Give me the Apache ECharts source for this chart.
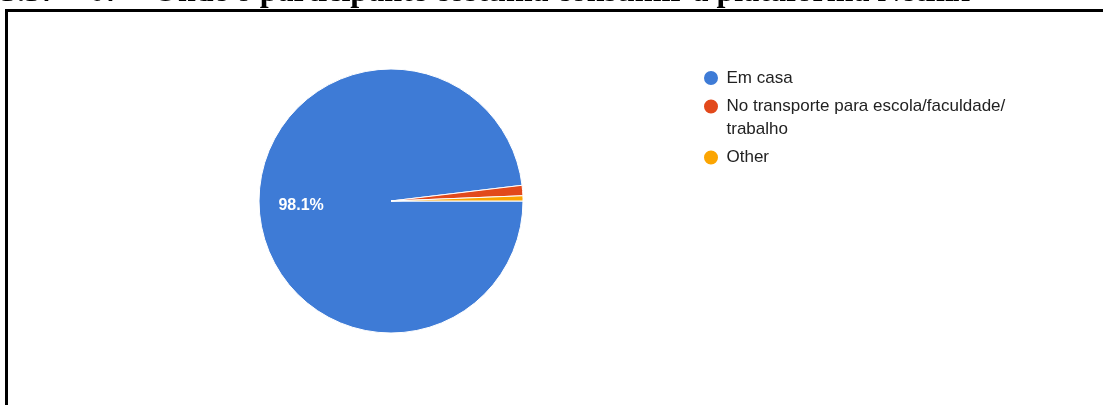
<!DOCTYPE html>
<html>
<head>
<meta charset="utf-8">
<script src="https://cdn.jsdelivr.net/npm/echarts@6/dist/echarts.min.js"></script>
<style>
  html, body { margin: 0; padding: 0; background: #ffffff; }
  #chart { width: 1103px; height: 405px; }
</style>
</head>
<body>
<div id="chart"></div>
<script>
// Onde o participante costuma consumir a plataforma Netflix (respostas)
const titleText = '3.37 \u2013 07 \u2013 Onde o participante costuma consumir a plataforma Netflix';
const categories = ['Em casa', 'No transporte para escola/faculdade/trabalho', 'Other'];
const responses = [155, 2, 1];
const sliceColors = ['#3e7bd6', '#e2491b', '#fba502'];

const chart = echarts.init(document.getElementById('chart'), null, { renderer: 'canvas' });

const pieData = categories.map((name, i) => ({
  name: name,
  value: responses[i],
  itemStyle: { color: sliceColors[i] },
  label: { show: i === 0 }
}));

// legend rows: long names wrap after the last slash, icon stays on the first line
function legendText(name) {
  if (name.length > 30) {
    const cut = name.lastIndexOf('/') + 1;
    return '{wrap|' + name.slice(0, cut) + '}\n{tail|' + name.slice(cut) + '}';
  }
  return name;
}

chart.setOption({
  animation: false,
  backgroundColor: '#ffffff',
  title: {
    text: titleText,
    left: 1,
    top: -23,
    padding: 0,
    textStyle: {
      fontFamily: '"Liberation Serif", "Times New Roman", serif',
      fontWeight: 'bold',
      fontSize: 32,
      lineHeight: 32,
      color: '#000000'
    }
  },
  graphic: [
    { type: 'rect', shape: { x: 5, y: 9, width: 1098, height: 3 }, style: { fill: '#000000' }, silent: true, z: 100 },
    { type: 'rect', shape: { x: 5, y: 9, width: 3, height: 396 }, style: { fill: '#000000' }, silent: true, z: 100 }
  ],
  legend: {
    orient: 'vertical',
    left: 702,
    top: 69,
    padding: 0,
    itemGap: 10.5,
    icon: 'circle',
    itemWidth: 21,
    itemHeight: 16,
    data: categories,
    formatter: legendText,
    textStyle: {
      fontFamily: '"Liberation Sans", Arial, sans-serif',
      fontSize: 17,
      color: '#222222',
      rich: {
        wrap: { fontSize: 17, lineHeight: 46, color: '#222222' },
        tail: { fontSize: 17, lineHeight: 0, color: '#222222' }
      }
    }
  },
  series: [{
    type: 'pie',
    center: [391, 201],
    radius: 132,
    startAngle: 0,
    clockwise: true,
    avoidLabelOverlap: false,
    itemStyle: { borderColor: '#ffffff', borderWidth: 1 },
    emphasis: { disabled: true },
    label: {
      show: true,
      position: 'inside',
      formatter: (p) => p.percent.toFixed(1) + '%',
      color: '#ffffff',
      fontFamily: '"Liberation Sans", Arial, sans-serif',
      fontWeight: 'bold',
      fontSize: 16,
      padding: [2, 42, 0, 0]
    },
    labelLine: { show: false },
    data: pieData
  }]
});
</script>
</body>
</html>
